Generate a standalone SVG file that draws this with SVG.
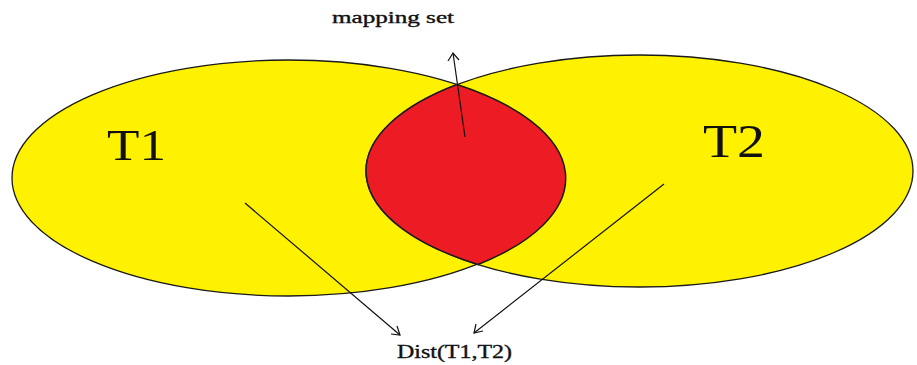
<svg xmlns="http://www.w3.org/2000/svg" width="917" height="365" viewBox="0 0 917 365">
<style>
.set{fill:#FFF200;stroke:#1a1a1a;stroke-width:1.3}
.lens{fill:#ED1C24;stroke:#1a1a1a;stroke-width:1.5}
.lbl{font-family:"Liberation Serif",serif;fill:#111}
.sm{stroke:#111;stroke-width:0.35}
.conn line,.conn polyline{stroke:#111;stroke-width:1.2;fill:none}
</style>
<rect width="917" height="365" fill="#fff"/>
<g id="T1">
<ellipse class="set" cx="288.5" cy="178" rx="276.5" ry="118"/>
</g>
<g id="T2">
<ellipse class="set" cx="639.5" cy="171" rx="273.5" ry="116"/>
</g>
<g id="mapping">
<path class="lens" d="M457,84.5 A273.5,116 0 0,0 478,264.5 A276.5,118 0 0,0 457,84.5 Z"/>
</g>
<g id="labels">
<text class="lbl" x="107" y="160" font-size="45" textLength="59" lengthAdjust="spacingAndGlyphs">T1</text>
<text class="lbl" x="703" y="157" font-size="47" textLength="62" lengthAdjust="spacingAndGlyphs">T2</text>
<text class="lbl sm" x="332" y="23" font-size="16" textLength="122" lengthAdjust="spacingAndGlyphs">mapping set</text>
<text class="lbl sm" x="397" y="358" font-size="18" textLength="115" lengthAdjust="spacingAndGlyphs">Dist(T1,T2)</text>
</g>
<g id="connectors" class="conn">
<line x1="465" y1="137" x2="453" y2="53"/>
<polyline points="448,61 453,53 459,60"/>
<line x1="245" y1="203" x2="400" y2="335"/>
<polyline points="391,334 400,335 397,326"/>
<line x1="664" y1="184" x2="474" y2="333"/>
<polyline points="476,324 474,333 483,331"/>
</g>
</svg>
